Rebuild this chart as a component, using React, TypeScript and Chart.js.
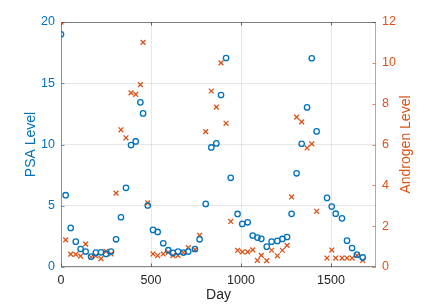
import React, { useEffect, useRef } from "react";
import { Chart, registerables } from "chart.js";

Chart.register(...registerables);

const days = [
  0, 26, 54, 82, 109, 137, 167, 194, 222, 250,
  278, 306, 333, 361, 389, 415, 441, 456, 482, 511,
  537, 568, 596, 622, 650, 680, 707, 744, 770, 804,
  835, 863, 889, 917, 943, 981, 1007, 1037, 1065, 1091,
  1113, 1143, 1170, 1202, 1230, 1256, 1281, 1309, 1337, 1367,
  1393, 1420, 1478, 1504, 1526, 1561, 1589, 1617, 1644, 1676,
];

const psaLevel = [
  19.0, 5.86, 3.19, 2.07, 1.47, 1.26, 0.85, 1.17, 1.2, 1.07,
  1.26, 2.26, 4.06, 6.46, 9.95, 10.25, 13.44, 12.54, 5.02, 3.03,
  2.86, 1.94, 1.37, 1.15, 1.26, 1.18, 1.26, 1.47, 2.26, 5.15,
  9.76, 10.09, 14.04, 17.06, 7.28, 4.33, 3.52, 3.65, 2.57, 2.4,
  2.3, 1.66, 2.07, 2.13, 2.29, 2.45, 4.34, 7.65, 10.06, 13.03,
  17.04, 11.07, 5.64, 4.93, 4.35, 3.97, 2.15, 1.55, 1.01, 0.78,
];

const androgenLevel = [
  12.0, 1.33, 0.63, 0.62, 0.53, 1.12, 0.49, 0.54, 0.41, 0.77,
  0.64, 3.62, 6.72, 6.33, 8.53, 8.45, 8.93, 11.0, 3.14, 0.64,
  0.56, 0.64, 0.72, 0.56, 0.57, 0.71, 0.95, 0.85, 1.55, 6.63,
  8.62, 7.83, 10.0, 7.04, 2.23, 0.81, 0.74, 0.74, 0.84, 0.33,
  0.57, 0.31, 0.82, 0.55, 0.82, 1.06, 3.43, 7.34, 7.11, 5.83,
  6.03, 2.73, 0.44, 0.83, 0.44, 0.44, 0.44, 0.44, 0.57, 0.32,
];

const xTicks = [0, 500, 1000, 1500];
const psaTicks = [0, 5, 10, 15, 20];
const androgenTicks = [0, 2, 4, 6, 8, 10, 12];

const xTitle = "Day";
const leftTitle = "PSA Level";
const rightTitle = "Androgen Level";

const BLUE = "#0072BD";
const ORANGE = "#D95319";
const DARK = "#262626";
const GRID = "rgba(38,38,38,0.11)";
const FONT = "'Liberation Sans', Arial, Helvetica, sans-serif";

const framePlugin = {
  id: "matlabFrame",
  beforeDatasetsDraw(chart: any) {
    const { ctx, chartArea: a, scales } = chart;
    const tl = 3;
    ctx.save();
    ctx.lineWidth = 1;
    const seg = (x1: number, y1: number, x2: number, y2: number, c: string) => {
      ctx.strokeStyle = c;
      ctx.beginPath();
      ctx.moveTo(x1, y1);
      ctx.lineTo(x2, y2);
      ctx.stroke();
    };
    const L = Math.round(a.left) + 0.5;
    const R = Math.round(a.right) - 0.5;
    const T = Math.round(a.top) + 0.5;
    const B = Math.round(a.bottom) - 0.5;
    scales.x.ticks.forEach((t: any) => {
      const px = Math.round(scales.x.getPixelForValue(t.value)) + 0.5;
      seg(px, B, px, B - tl, "rgba(38,38,38,0.7)");
      seg(px, T, px, T + tl, "rgba(38,38,38,0.7)");
    });
    scales.y.ticks.forEach((t: any) => {
      const py = Math.round(scales.y.getPixelForValue(t.value)) + 0.5;
      seg(L, py, L + tl, py, "rgba(0,114,189,0.7)");
    });
    scales.y1.ticks.forEach((t: any) => {
      const py = Math.round(scales.y1.getPixelForValue(t.value)) + 0.5;
      seg(R, py, R - tl, py, "rgba(217,83,25,0.7)");
    });
    seg(a.left, T, a.right, T, "rgba(38,38,38,0.55)");
    seg(a.left, B, a.right, B, "rgba(38,38,38,0.55)");
    seg(L, a.top, L, a.bottom, "rgba(0,114,189,0.6)");
    seg(R, a.top, R, a.bottom, "rgba(217,83,25,0.6)");
    ctx.restore();
  },
  afterDraw(chart: any) {
    const { ctx, chartArea: a } = chart;
    ctx.save();
    ctx.translate(405.7, (a.top + a.bottom) / 2);
    ctx.rotate(-Math.PI / 2);
    ctx.fillStyle = ORANGE;
    ctx.font = `14px ${FONT}`;
    ctx.textAlign = "center";
    ctx.textBaseline = "middle";
    ctx.fillText(rightTitle, 0, 0);
    ctx.restore();
  },
};

export default function App() {
  const ref = useRef<HTMLCanvasElement | null>(null);

  useEffect(() => {
    if (!ref.current) return;
    const chart = new Chart(ref.current, {
      type: "scatter",
      data: {
        datasets: [
          {
            label: leftTitle,
            data: days.map((d, i) => ({ x: d, y: psaLevel[i] })),
            yAxisID: "y",
            pointStyle: "circle",
            pointRadius: 2.7,
            pointBorderWidth: 1.3,
            borderColor: BLUE,
            backgroundColor: "rgba(0,0,0,0)",
            pointHoverRadius: 2.7,
          },
          {
            label: rightTitle,
            data: days.map((d, i) => ({ x: d, y: androgenLevel[i] })),
            yAxisID: "y1",
            pointStyle: "crossRot",
            pointRadius: 3.4,
            pointBorderWidth: 1.3,
            borderColor: ORANGE,
            backgroundColor: ORANGE,
            pointHoverRadius: 3.4,
          },
        ],
      },
      options: {
        responsive: false,
        animation: false,
        events: [],
        layout: { padding: { top: 22, left: 0, right: 0, bottom: 0 } },
        plugins: {
          legend: { display: false },
          tooltip: { enabled: false },
        },
        scales: {
          x: {
            type: "linear",
            position: "bottom",
            min: 0,
            max: 1750,
            afterFit: (s: any) => {
              s.height = 40;
            },
            afterBuildTicks: (s: any) => {
              s.ticks = xTicks.map((v) => ({ value: v }));
            },
            ticks: {
              color: DARK,
              font: { family: FONT, size: 12.5 },
              padding: 6,
              maxRotation: 0,
              callback: (v: any) => String(v),
            },
            grid: { color: GRID, drawTicks: false, lineWidth: 1 },
            border: { display: false },
            title: {
              display: true,
              text: xTitle,
              color: DARK,
              font: { family: FONT, size: 14 },
              padding: { top: 0, bottom: 3.6 },
            },
          },
          y: {
            type: "linear",
            position: "left",
            min: 0,
            max: 20,
            afterFit: (s: any) => {
              s.width = 61;
            },
            afterBuildTicks: (s: any) => {
              s.ticks = psaTicks.map((v) => ({ value: v }));
            },
            ticks: {
              color: BLUE,
              font: { family: FONT, size: 12.5 },
              padding: 6,
              callback: (v: any) => String(v),
            },
            grid: { color: GRID, drawTicks: false, lineWidth: 1 },
            border: { display: false },
            title: {
              display: true,
              text: leftTitle,
              color: BLUE,
              font: { family: FONT, size: 14 },
              padding: { top: 23.1, bottom: 0 },
            },
          },
          y1: {
            type: "linear",
            position: "right",
            min: 0,
            max: 12,
            afterFit: (s: any) => {
              s.width = 51;
            },
            afterBuildTicks: (s: any) => {
              s.ticks = androgenTicks.map((v) => ({ value: v }));
            },
            ticks: {
              color: ORANGE,
              font: { family: FONT, size: 12.5 },
              padding: 6,
              callback: (v: any) => String(v),
            },
            grid: { display: false, drawTicks: false },
            border: { display: false },
          },
        },
      },
      plugins: [framePlugin],
    });
    return () => chart.destroy();
  }, []);

  return (
    <div style={{ position: "absolute", left: 0, top: 0, width: 427, height: 307, background: "#fff" }}>
      <canvas ref={ref} width={427} height={307} style={{ display: "block" }} />
    </div>
  );
}
